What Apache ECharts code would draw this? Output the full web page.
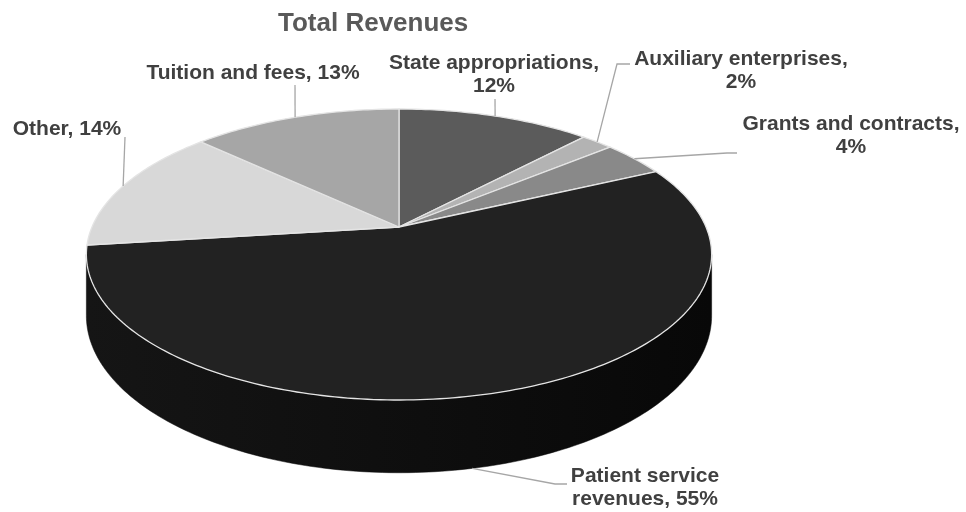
<!DOCTYPE html>
<html><head><meta charset="utf-8">
<script src="https://cdn.jsdelivr.net/npm/echarts@6/dist/echarts.min.js"></script>
<style>html,body{margin:0;padding:0;background:#fff}#c{width:966px;height:512px}</style>
</head><body><div id="c"></div>
<script>
// ---- data ----
const titleText = 'Total Revenues';
const categories = ['State appropriations', 'Auxiliary enterprises', 'Grants and contracts', 'Patient service revenues', 'Other', 'Tuition and fees'];
const shares = [12, 2, 4, 55, 14, 13];

// ---- styles ----
const topColors = ['#5b5b5b', '#b3b3b3', '#898989', '#222222', '#d8d8d8', '#a6a6a6'];
const sideColors = [['#454545', '#3a3a3a'], ['#8e8e8e', '#808080'], ['#6a6a6a', '#5e5e5e'], ['#151515', '#080808'], ['#b0b0b0', '#a0a0a0'], ['#858585', '#777777']];
const FONT = '"Liberation Sans", Arial, Helvetica, sans-serif';

// ---- geometry of the tilted (perspective) pie ----
const GEO = { cx: 399, cy: 227, a: 140.3, c: 307, b: 0.189, h: 59 };
function proj(theta, r, drop) {
  const t = theta * Math.PI / 180;
  const u = r * Math.sin(t), v = -r * Math.cos(t);
  const d = 1 - GEO.b * v;
  return [GEO.cx + GEO.c * u / d, GEO.cy + GEO.a * v / d + drop * GEO.h / d];
}
const silhouette = Math.acos(-GEO.b) * 180 / Math.PI; // ~100.9
const visFrom = silhouette, visTo = 360 - silhouette;

const total = shares.reduce((s, v) => s + v, 0);
const angles = [];
{ let acc = 0; shares.forEach(v => { const a0 = acc / total * 360; acc += v; angles.push([a0, acc / total * 360]); }); }

function arc(a0, a1, drop) {
  const n = Math.max(2, Math.ceil(Math.abs(a1 - a0)));
  const pts = [];
  for (let i = 0; i <= n; i++) pts.push(proj(a0 + (a1 - a0) * i / n, 1, drop));
  return pts;
}

// ---- label layout (positions only) ----
const labelLayout = [
  { x: 494, y: 52, wrap: 'comma', line: [[495, 99]] },
  { x: 741, y: 48, wrap: 'comma', line: [[617, 64], [630, 64]] },
  { x: 851, y: 113, wrap: 'comma', line: [[727, 153], [737, 153]] },
  { x: 645, y: 465, wrap: 'word2', bottom: true, shift: 5, line: [[555, 484], [567, 484]] },
  { x: 67, y: 118, wrap: 'none', line: [[125, 137]] },
  { x: 253, y: 62, wrap: 'none', line: [[295, 85]] }
];
function labelText(i) {
  const n = categories[i], p = shares[i] + '%';
  const w = labelLayout[i].wrap;
  if (w === 'comma') return n + ',\n' + p;
  if (w === 'word2') { const ws = n.split(' '); return ws.slice(0, 2).join(' ') + '\n' + ws.slice(2).join(' ') + ', ' + p; }
  return n + ', ' + p;
}

const chart = echarts.init(document.getElementById('c'));
chart.setOption({
  animation: false,
  backgroundColor: '#ffffff',
  title: {
    text: titleText, left: 278, top: 9, padding: 0,
    textStyle: { fontSize: 26, fontWeight: 'bold', color: '#595959', fontFamily: FONT, lineHeight: 30 }
  },
  series: [
    {
      type: 'custom', coordinateSystem: 'none', silent: true, z: 1,
      data: shares,
      renderItem: function (params) {
        const i = params.dataIndex;
        const s = Math.max(angles[i][0], visFrom), e = Math.min(angles[i][1], visTo);
        if (e <= s) return { type: 'group', children: [] };
        const pts = arc(s, e, 0).concat(arc(e, s, 1));
        return {
          type: 'polygon', shape: { points: pts },
          style: {
            fill: new echarts.graphic.LinearGradient(0, 0, 1, 0, [
              { offset: 0, color: sideColors[i][0] },
              { offset: 1, color: sideColors[i][1] }
            ]),
            stroke: sideColors[i][1], lineWidth: 0.5
          }
        };
      }
    },
    {
      type: 'custom', coordinateSystem: 'none', silent: true, z: 2,
      data: shares,
      renderItem: function (params) {
        const i = params.dataIndex;
        const pts = [proj(0, 0, 0)].concat(arc(angles[i][0], angles[i][1], 0));
        return {
          type: 'polygon', shape: { points: pts },
          style: { fill: topColors[i], stroke: '#e4e4e4', lineWidth: 1.3, lineJoin: 'round' }
        };
      }
    },
    {
      type: 'custom', coordinateSystem: 'none', silent: true, z: 3,
      data: shares,
      renderItem: function (params) {
        const i = params.dataIndex;
        const L = labelLayout[i];
        const mid = (angles[i][0] + angles[i][1]) / 2 + (L.shift || 0);
        const start = proj(mid, 1, L.bottom ? 1 : 0);
        return {
          type: 'group',
          children: [
            { type: 'polyline', shape: { points: [start].concat(L.line) },
              style: { stroke: '#a6a6a6', lineWidth: 1.3, fill: null } },
            { type: 'text', x: L.x, y: L.y,
              style: { text: labelText(i), fill: '#404040', font: 'bold 21px ' + FONT,
                       align: 'center', verticalAlign: 'top', lineHeight: 23 } }
          ]
        };
      }
    }
  ]
});
</script></body></html>
